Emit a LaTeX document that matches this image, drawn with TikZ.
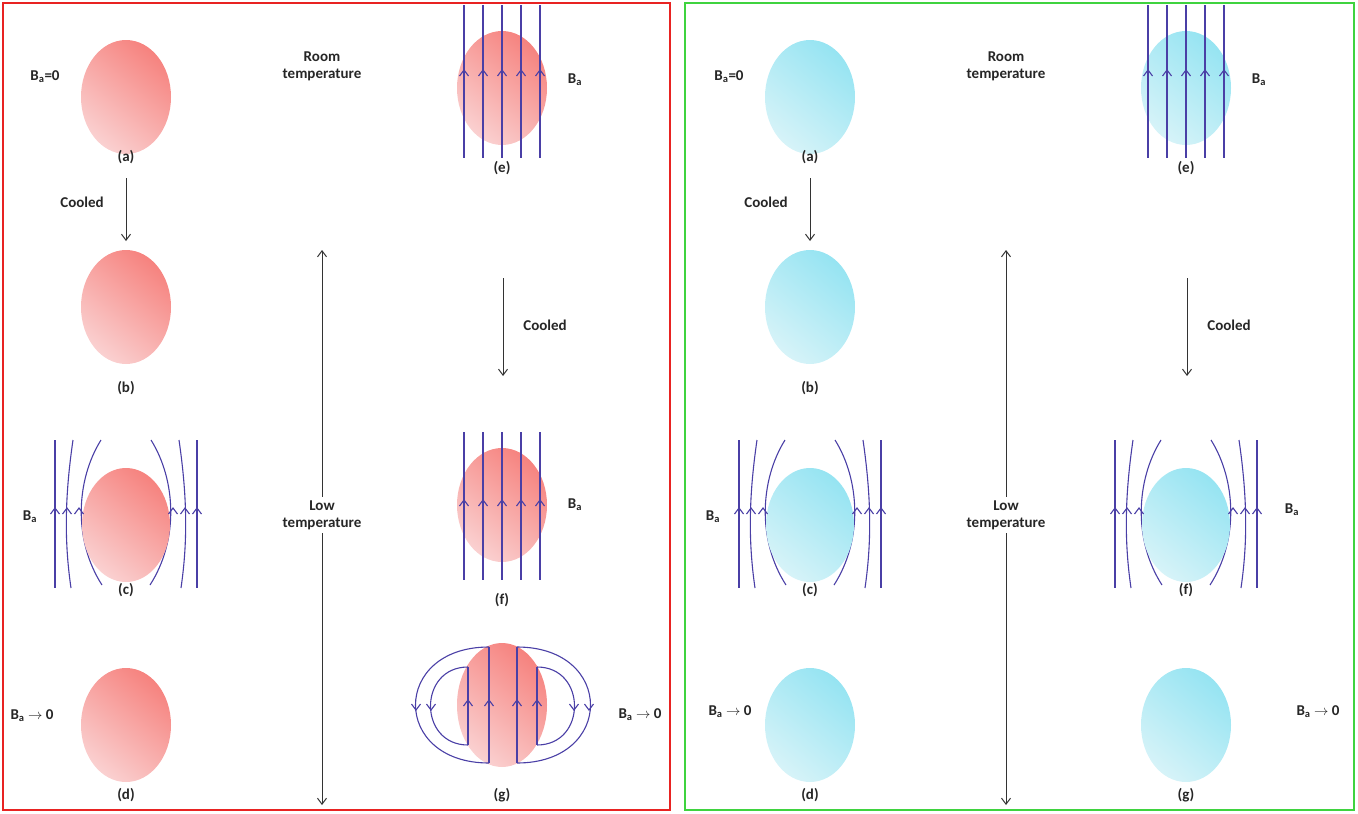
\documentclass[tikz,border=0pt]{standalone}
\usepackage{fontspec}
\setmainfont{Carlito}
\usetikzlibrary{arrows.meta}
\begin{document}
\definecolor{fl}{HTML}{4A3FA6}
\definecolor{pkd}{HTML}{F6837F}
\definecolor{pkl}{HTML}{FAD0D0}
\definecolor{bld}{HTML}{96E4F2}
\definecolor{bll}{HTML}{D6F3F8}
\definecolor{frr}{HTML}{E82322}
\definecolor{frg}{HTML}{3FD33F}
\begin{tikzpicture}[x=1pt,y=-1pt,
  fl/.style={draw=fl,line width=1.1pt},
  lab/.style={font=\bfseries\fontsize{15}{17}\selectfont,text=black!85,align=center},
  arr/.style={draw=black!80,line width=1pt,-{Straight Barb[length=6pt,width=9pt]}},
  pink/.style={bottom color=pkl,top color=pkd,shading angle=-40},
  blue/.style={bottom color=bll,top color=bld,shading angle=-40},
  chev/.pic={\draw[fl] (-4.5,6)--(0,0)--(4.5,6);}]
\useasboundingbox (0,0) rectangle (1358,814);
\draw[frr,line width=2pt] (3,3) rectangle (670,810);
\draw[frg,line width=2pt] (685,3) rectangle (1354,810);
\foreach \ox/\sty in {0/pink,684/blue}{
  \begin{scope}[xshift=\ox]
  \shade[\sty] (126,97) ellipse (45 and 57);
  \node[lab] (la) at (126,157) {(a)};
  \node[lab] (Ba0) at (45,77) {B$_\mathbf{a}$=0};
  \node[lab] (rt) at (322,66) {Room\\temperature};
  \coordinate (c1) at (126,178); \coordinate (c2) at (126,241);
  \draw[arr] (c1) -- (c2);
  \node[lab] (cl1) at (82,202) {Cooled};
  \shade[\sty] (126,307) ellipse (45 and 57);
  \node[lab] (lb) at (126,388) {(b)};
  \node[lab] (lt) at (322,515) {Low\\temperature};
  \coordinate (t1) at (322,250); \coordinate (t2) at (322,805);
  \draw[arr] (lt.north) -- (t1);
  \draw[arr] (lt.south) -- (t2);
  \shade[\sty] (126,725) ellipse (45 and 57);
  \node[lab] (ld) at (126,795) {(d)};
  \shade[\sty] (502,88) ellipse (45 and 57);
  \foreach \x in {464,483,502,521,540}{
    \draw[fl] (\x,5) -- (\x,158);
    \pic at (\x,70) {chev};}
  \node[lab] (le) at (502,168) {(e)};
  \node[lab] (Be) at (575,80) {B$_\mathbf{a}$};
  \coordinate (c3) at (503,278); \coordinate (c4) at (503,376);
  \draw[arr] (c3) -- (c4);
  \node[lab] (cl2) at (545,325) {Cooled};
  \node[lab] (lg) at (502,795) {(g)};
  \end{scope}
}
\foreach \cx/\st in {126/pink,810/blue,1186/blue}{
  \begin{scope}[xshift=\cx-126]
  \draw[fl] (55,440) -- (55,588);
  \draw[fl] (197,440) -- (197,588);
  \draw[fl] (73,440) .. controls (65,495) and (64,540) .. (71,588);
  \draw[fl] (179,440) .. controls (187,495) and (188,540) .. (181,588);
  \draw[fl] (101,440) .. controls (76,480) and (73,540) .. (102,585);
  \draw[fl] (151,440) .. controls (176,480) and (179,540) .. (150,585);
  \shade[\st] (126,525) ellipse (44 and 57);
  \foreach \x in {55,67,79,173,185,197}{\pic at (\x,508) {chev};}
  \end{scope}
}
\node[lab] (lc) at (126,590) {(c)};
\node[lab] (lc2) at (810,590) {(c)};
\node[lab] (lf2) at (1186,590) {(f)};
\node[lab] (Bc) at (30,517) {B$_\mathbf{a}$};
\node[lab] (Bc2) at (713,517) {B$_\mathbf{a}$};
\node[lab] (Bf2) at (1292,510) {B$_\mathbf{a}$};
\node[lab] (Bd) at (32,716) {B$_\mathbf{a}$ $\mathbf{\rightarrow}$ 0};
\node[lab] (Bd2) at (730,712) {B$_\mathbf{a}$ $\mathbf{\rightarrow}$ 0};
\node[lab] (Bg2) at (1318,712) {B$_\mathbf{a}$ $\mathbf{\rightarrow}$ 0};
\node[lab] (Bg) at (640,715) {B$_\mathbf{a}$ $\mathbf{\rightarrow}$ 0};
\shade[pink] (502,505) ellipse (45 and 57);
\foreach \x in {464,483,502,521,540}{
  \draw[fl] (\x,432) -- (\x,580);
  \pic at (\x,500) {chev};}
\node[lab] (lf) at (502,600) {(f)};
\node[lab] (Bf) at (575,505) {B$_\mathbf{a}$};
\shade[pink] (502,705) ellipse (45 and 62);
\draw[fl] (489,647) -- (489,763);
\draw[fl] (517,647) -- (517,763);
\draw[fl] (468,667) -- (468,745);
\draw[fl] (537,667) -- (537,745);
\draw[fl] (489,647) .. controls (391,647) and (391,763) .. (489,763);
\draw[fl] (468,667) .. controls (418,667) and (418,745) .. (468,745);
\draw[fl] (517,647) .. controls (615,647) and (615,763) .. (517,763);
\draw[fl] (537,667) .. controls (587,667) and (587,745) .. (537,745);
\foreach \x in {468,489,517,537}{\pic at (\x,700) {chev};}
\foreach \x in {416,431,574,589}{\pic[rotate=180] at (\x,710) {chev};}
\shade[blue] (1186,725) ellipse (45 and 57);
\end{tikzpicture}
\end{document}
